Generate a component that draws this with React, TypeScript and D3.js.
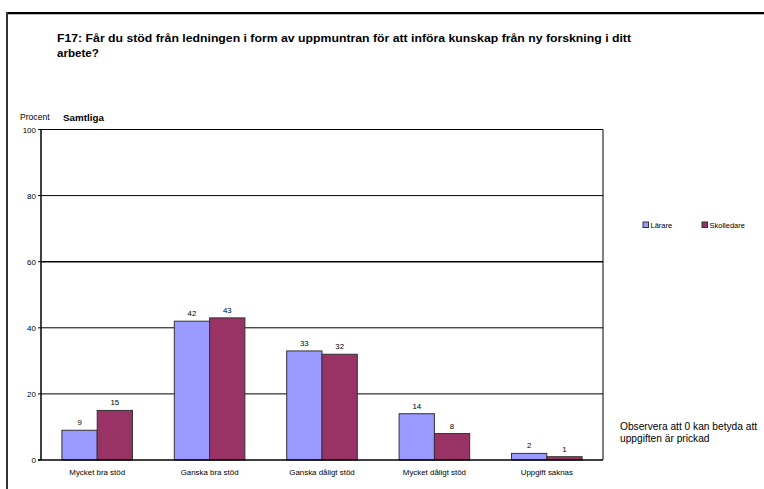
import React from "react";
import * as d3 from "d3";

const categories = ["Mycket bra stöd", "Ganska bra stöd", "Ganska dåligt stöd", "Mycket dåligt stöd", "Uppgift saknas"];
const seriesNames = ["Lärare", "Skolledare"];
const lararValues = [9, 42, 33, 14, 2];
const skolledareValues = [15, 43, 32, 8, 1];
const yTicks = [0, 20, 40, 60, 80, 100];
const colors = ["#9999FF", "#993366"];
const titleLines = [
  "F17: Får du stöd från ledningen i form av uppmuntran för att införa kunskap från ny forskning i ditt",
  "arbete?",
];
const noteLines = ["Observera att 0 kan betyda att", "uppgiften är prickad"];

const W = 764;
const H = 489;
const plot = { left: 41, right: 603, top: 129.5, bottom: 460 };
const FONT = "'Liberation Sans', Arial, sans-serif";

export default function App() {
  const x = d3
    .scaleBand<string>()
    .domain(categories)
    .range([plot.left, plot.right])
    .paddingInner(0.372)
    .paddingOuter(0.186);
  const xs = d3.scaleBand<string>().domain(seriesNames).range([0, x.bandwidth()]);
  const y = d3.scaleLinear().domain([0, 100]).range([plot.bottom, plot.top]);
  const series = [lararValues, skolledareValues];

  return (
    <svg
      width={W}
      height={H}
      style={{ position: "absolute", left: 0, top: 0, background: "#fff" }}
      fontFamily={FONT}
    >
      {/* outer frame */}
      <line x1={7} y1={13} x2={W} y2={13} stroke="#000" strokeWidth={2} />
      <line x1={7} y1={12} x2={7} y2={H} stroke="#333" strokeWidth={2} />
      <line x1={8} y1={14.5} x2={W} y2={14.5} stroke="#bbb" strokeWidth={1} />

      {/* title */}
      {titleLines.map((t, i) => (
        <text
          key={i}
          x={57}
          y={42 + i * 15}
          fontSize={11.6}
          fontWeight="bold"
          fill="#000"
          {...(i === 0 ? { textLength: 574, lengthAdjust: "spacingAndGlyphs" } : {})}
        >
          {t}
        </text>
      ))}

      <text x={20} y={120} fontSize={8.6} fill="#000">Procent</text>
      <text x={63} y={120.5} fontSize={9.8} fontWeight="bold" fill="#000">Samtliga</text>

      {/* gridlines */}
      {yTicks.map((t) => (
        <g key={t}>
          {t > 0 && (
            <line x1={plot.left} x2={plot.right} y1={y(t)} y2={y(t)} stroke="#000" strokeWidth={t === 60 ? 1.6 : 1} />
          )}
          <line x1={plot.left - 3} x2={plot.left} y1={y(t)} y2={y(t)} stroke="#000" />
          <text x={plot.left - 5} y={y(t) + 3} fontSize={8} textAnchor="end" fill="#000">
            {t}
          </text>
        </g>
      ))}
      <line x1={plot.right} x2={plot.right} y1={plot.top} y2={plot.bottom} stroke="#000" />

      {/* bars */}
      {series.map((vals, si) =>
        vals.map((v, ci) => {
          const bx = (x(categories[ci]) ?? 0) + (xs(seriesNames[si]) ?? 0);
          const bw = xs.bandwidth();
          return (
            <g key={`${si}-${ci}`}>
              <rect x={bx} y={y(v)} width={bw} height={plot.bottom - y(v)} fill={colors[si]} stroke="#333" strokeWidth={1} />
              <text x={bx + bw / 2} y={y(v) - 5} fontSize={7.8} textAnchor="middle" fill="#000">
                {v}
              </text>
            </g>
          );
        })
      )}

      {/* axes */}
      <line x1={plot.left} x2={plot.left} y1={plot.top} y2={plot.bottom} stroke="#000" strokeWidth={1.5} />
      <line x1={plot.left - 3} x2={plot.right} y1={plot.bottom} y2={plot.bottom} stroke="#000" strokeWidth={1.5} />

      {categories.map((c) => (
        <text key={c} x={(x(c) ?? 0) + x.bandwidth() / 2} y={474.5} fontSize={7.9} textAnchor="middle" fill="#000">
          {c}
        </text>
      ))}

      {/* legend */}
      {seriesNames.map((s, i) => {
        const lx = [643, 702][i];
        return (
          <g key={s}>
            <rect x={lx} y={222} width={5.5} height={5.5} fill={colors[i]} stroke="#333" strokeWidth={1} />
            <text x={lx + 7.5} y={228} fontSize={7.5} fill="#000">{s}</text>
          </g>
        );
      })}

      {/* note */}
      {noteLines.map((t, i) => (
        <text key={i} x={620} y={429.5 + i * 12} fontSize={10.2} fill="#000">{t}</text>
      ))}
    </svg>
  );
}
